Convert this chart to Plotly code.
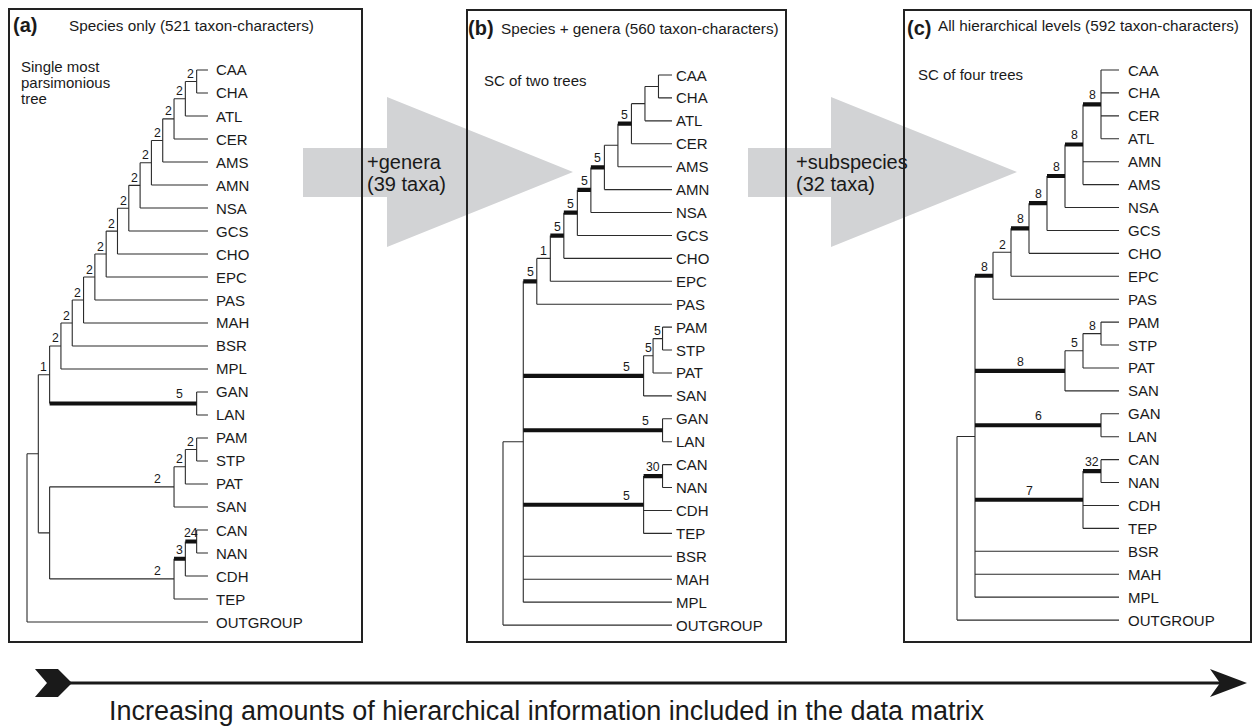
import plotly.graph_objects as go

W, H = 1257, 727

# ---------------- data ----------------
# Trees in Newick form: internal labels are support values ("*" = highlighted/bold branch),
# branch lengths are cladogram steps.
tree_a = ("((((((((((((((((CAA,CHA)2:1,ATL)2:1,CER)2:1,AMS)2:1,AMN)2:1,NSA)2:1,GCS)2:1,"
          "CHO)2:1,EPC)2:1,PAS)2:1,MAH)2:1,BSR)2:1,MPL)2:1,(GAN,LAN)5*:13)1:1,"
          "((((PAM,STP)2:1,PAT)2:1,SAN)2:11,(((CAN,NAN)24*:1,CDH)3*:1,TEP)2:11):1):1,OUTGROUP);")
tree_b = ("((((((((((((CAA,CHA):1,ATL):1,CER)5*:1,AMS):1,AMN)5*:1,NSA)5*:1,GCS)5*:1,CHO)5*:1,"
          "EPC)1:1,PAS)5*:1,(((PAM,STP)5:0.7,PAT)5:0.7,SAN)5*:8.9,(GAN,LAN)5*:10.3,"
          "((CAN,NAN)30*:1.4,CDH,TEP)5*:8.9,BSR,MAH,MPL):1.5,OUTGROUP);")
tree_c = ("(((((((((CAA,CHA,CER,ATL)8*:1,AMN,AMS)8*:1,NSA)8*:1,GCS)8*:1,CHO)8*:1,EPC)2:1,"
          "PAS)8*:1,(((PAM,STP)8:1,PAT)5:1,SAN)8*:5,(GAN,LAN)6*:7,((CAN,NAN)32*:1,CDH,TEP)7*:6,"
          "BSR,MAH,MPL):1,OUTGROUP);")

panel_letters = ["(a)", "(b)", "(c)"]
panel_titles = ["Species only (521 taxon-characters)",
                "Species + genera (560 taxon-characters)",
                "All hierarchical levels (592 taxon-characters)"]
panel_subtitles = [["Single most", "parsimonious", "tree"],
                   ["SC of two trees"],
                   ["SC of four trees"]]
arrow_texts = [["+genera", "(39 taxa)"], ["+subspecies", "(32 taxa)"]]
bottom_text = "Increasing amounts of hierarchical information included in the data matrix"

# ---------------- helpers ----------------
FONT = "Liberation Sans, Arial, Helvetica, sans-serif"
INK = "#1a1a1a"


def parse_newick(s):
    s = s.strip().rstrip(";")
    pos = 0

    def node():
        nonlocal pos
        n = {"children": [], "name": "", "label": "", "len": 0.0}
        if s[pos] == "(":
            pos += 1
            while True:
                n["children"].append(node())
                if s[pos] == ",":
                    pos += 1
                    continue
                pos += 1  # ')'
                break
        st = pos
        while pos < len(s) and s[pos] not in ",():":
            pos += 1
        lab = s[st:pos]
        if n["children"]:
            n["label"] = lab
        else:
            n["name"] = lab
        if pos < len(s) and s[pos] == ":":
            pos += 1
            st = pos
            while pos < len(s) and s[pos] not in ",()":
                pos += 1
            n["len"] = float(s[st:pos])
        return n

    return node()


def place(n, parent_depth, rows):
    n["pdepth"] = parent_depth
    n["depth"] = parent_depth + n["len"]
    if not n["children"]:
        n["row"] = len(rows)
        rows.append(n["name"])
    else:
        for c in n["children"]:
            place(c, n["depth"], rows)
        n["row"] = (n["children"][0]["row"] + n["children"][-1]["row"]) / 2


def px(x):
    return x / W


def py(y):
    return 1 - y / H


fig = go.Figure()
layout = dict(width=W, height=H, margin=dict(l=0, r=0, t=0, b=0), autosize=False,
              paper_bgcolor="white", plot_bgcolor="rgba(0,0,0,0)", showlegend=False)
annotations = []
shapes = []

panels = [
    dict(key="", tree=tree_a, root_px=27, unit=11.31, height=16, y0=70, dy=23.0, gap=6.5, K=17),
    dict(key="2", tree=tree_b, root_px=503, unit=13.52, height=12.5, y0=75, dy=22.92, gap=2.5, K=17),
    dict(key="3", tree=tree_c, root_px=957, unit=18.0, height=9, y0=70, dy=22.92, gap=6.5, K=1e9),
]

for P in panels:
    root = parse_newick(P["tree"])
    rows = []
    place(root, 0.0, rows)
    nmax = len(rows) - 1
    xa, ya = "x" + P["key"], "y" + P["key"]
    u = P["unit"]
    xr = [-0.6, P["height"] + 0.6]
    yr = [-0.8, nmax + 0.8]
    layout["xaxis" + P["key"]] = dict(
        domain=[px(P["root_px"] + xr[0] * u), px(P["root_px"] + xr[1] * u)],
        range=xr, visible=False, fixedrange=True, anchor=ya)
    layout["yaxis" + P["key"]] = dict(
        domain=[py(P["y0"] + yr[1] * P["dy"]), py(P["y0"] + yr[0] * P["dy"])],
        range=[yr[1], yr[0]], visible=False, fixedrange=True, anchor=xa)

    thin_x, thin_y, thick_x, thick_y = [], [], [], []
    labels = []

    def walk(n):
        if not n["children"]:
            return
        d = n["depth"]
        thin_x.extend([d, d, None])
        thin_y.extend([n["children"][0]["row"], n["children"][-1]["row"], None])
        for c in n["children"]:
            xend = c["depth"] if c["children"] else P["height"]
            bold = "*" in c["label"]
            (thick_x if bold else thin_x).extend([d, xend, None])
            (thick_y if bold else thin_y).extend([c["row"], c["row"], None])
            lab = c["label"].replace("*", "")
            if lab:
                blen = c["depth"] - d
                cx = c["depth"] - min(blen / 2, P["K"] / u)
                labels.append((lab, cx, c["row"], bold))
            walk(c)

    walk(root)

    fig.add_trace(go.Scatter(x=thin_x, y=thin_y, mode="lines", xaxis=xa, yaxis=ya,
                             line=dict(color="#2b2b2b", width=1.1), hoverinfo="skip"))
    fig.add_trace(go.Scatter(x=thick_x, y=thick_y, mode="lines", xaxis=xa, yaxis=ya,
                             line=dict(color="#111111", width=4.2), hoverinfo="skip"))

    for i, name in enumerate(rows):
        annotations.append(dict(x=P["height"], y=i, xref=xa, yref=ya, text=name, showarrow=False,
                                xanchor="left", yanchor="middle", xshift=P["gap"],
                                font=dict(family=FONT, size=15, color=INK)))
    for lab, cx, r, bold in labels:
        annotations.append(dict(x=cx, y=r, xref=xa, yref=ya, text=lab, showarrow=False,
                                xanchor="center", yanchor="bottom", yshift=0 if bold else -1.5,
                                font=dict(family=FONT, size=12.3, color=INK)))

# ---------------- decorations (page layout) ----------------
boxes = [(9, 9, 362, 642), (467, 10, 786, 642), (904, 10, 1251, 642)]
for x0, y0, x1, y1 in boxes:
    shapes.append(dict(type="rect", xref="paper", yref="paper", x0=px(x0), x1=px(x1),
                       y0=py(y1), y1=py(y0), line=dict(color="#222222", width=2), layer="above"))


def poly_path(pts):
    return "M " + " L ".join(f"{px(a):.5f},{py(b):.5f}" for a, b in pts) + " Z"


gray_arrows = [
    [(303, 148), (387, 148), (387, 97), (573, 172), (387, 247), (387, 197), (303, 197)],
    [(748, 148), (831, 148), (831, 97), (1017, 172), (831, 247), (831, 197), (748, 197)],
]
for pts in gray_arrows:
    shapes.append(dict(type="path", xref="paper", yref="paper", path=poly_path(pts),
                       fillcolor="#d2d3d5", line=dict(width=0), layer="below"))

# bottom arrow
shapes.append(dict(type="line", xref="paper", yref="paper", x0=px(66), x1=px(1222),
                   y0=py(683), y1=py(683), line=dict(color=INK, width=3), layer="above"))
shapes.append(dict(type="path", xref="paper", yref="paper",
                   path=poly_path([(35, 669), (58, 669), (72, 683), (58, 697), (35, 697), (47, 683)]),
                   fillcolor=INK, line=dict(width=0), layer="above"))
shapes.append(dict(type="path", xref="paper", yref="paper",
                   path=poly_path([(1247, 683), (1210, 669), (1220, 683), (1210, 697)]),
                   fillcolor=INK, line=dict(width=0), layer="above"))


def ann(text, x, y, size, xanchor="left"):
    annotations.append(dict(x=px(x), y=py(y), xref="paper", yref="paper", text=text,
                            showarrow=False, xanchor=xanchor, yanchor="middle",
                            font=dict(family=FONT, size=size, color=INK)))


letter_pos = [(11, 25), (466, 28), (905, 28)]
title_pos = [(67, 26), (499, 29), (936, 26)]
for (lx, ly), (tx, ty), L, T in zip(letter_pos, title_pos, panel_letters, panel_titles):
    ann("<b>" + L + "</b>", lx, ly, 20)
    ann(T, tx, ty, 15.3)

sub_pos = [[(19, 67), (19, 82), (19, 98)], [(482, 80)], [(916, 74)]]
for lines, poss in zip(panel_subtitles, sub_pos):
    for t, (x, y) in zip(lines, poss):
        ann(t, x, y, 15)

arrow_text_pos = [[(365, 162), (365, 184)], [(794, 162), (794, 184)]]
for lines, poss in zip(arrow_texts, arrow_text_pos):
    for t, (x, y) in zip(lines, poss):
        ann(t, x, y, 20)

ann(bottom_text, 107, 711, 27)

layout["annotations"] = annotations
layout["shapes"] = shapes
fig.update_layout(**layout)
fig.write_html("out.html", config={"displayModeBar": False},
               post_script="document.body.style.margin='0';document.body.style.overflow='hidden';")
